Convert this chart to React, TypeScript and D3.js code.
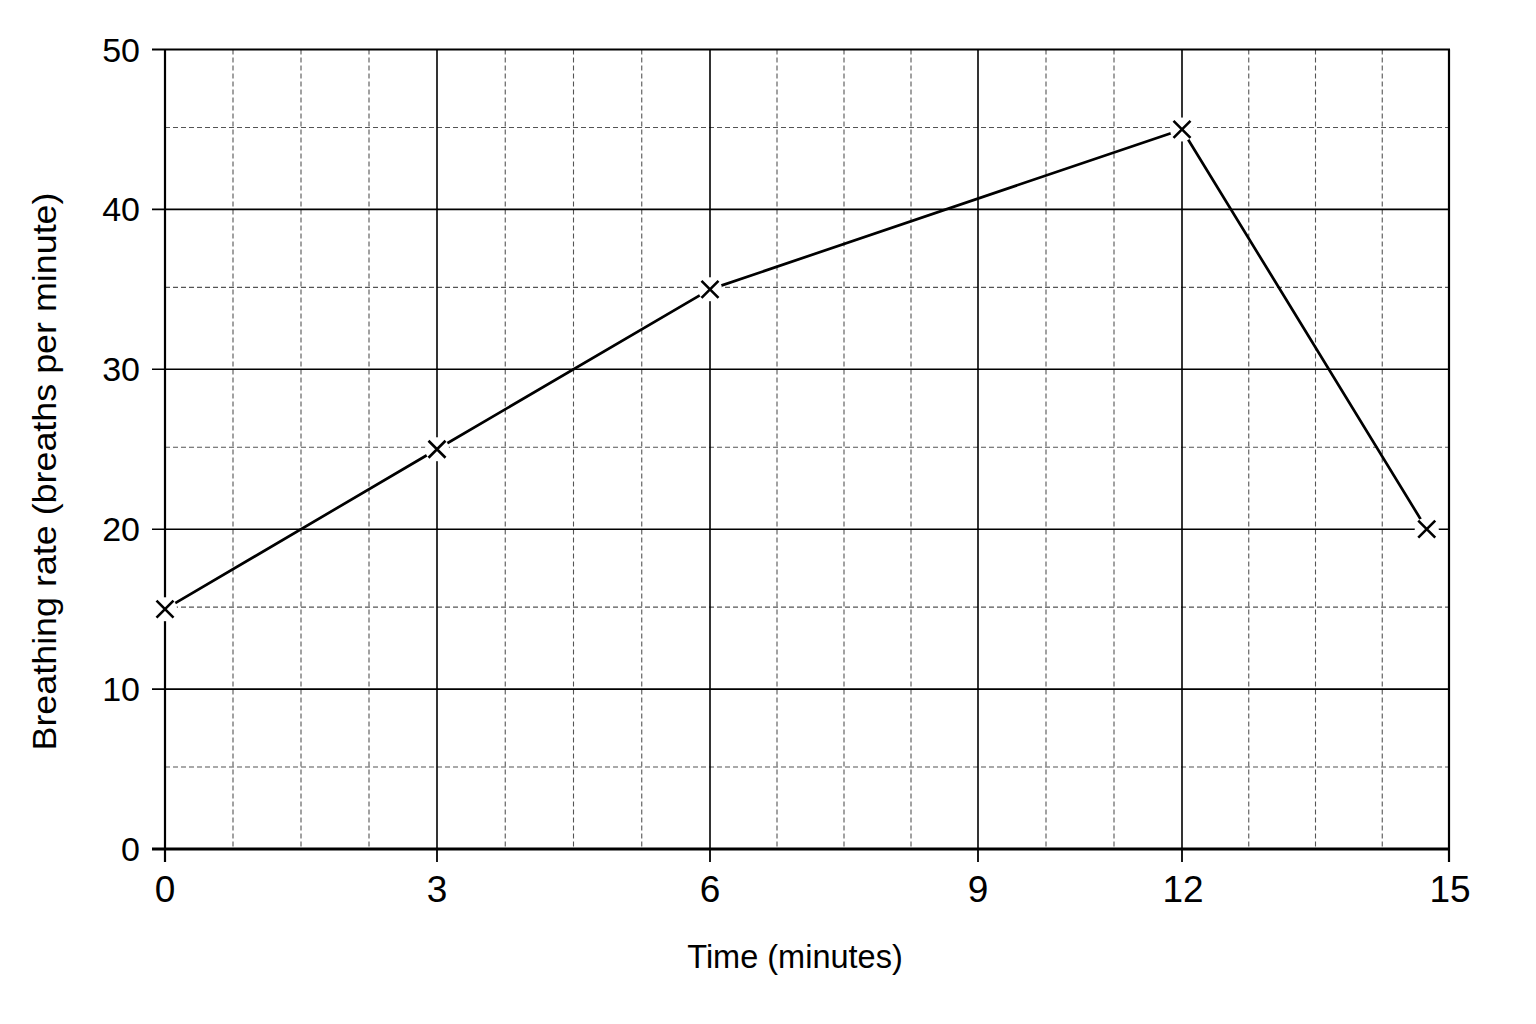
import React from "react";
import * as d3 from "d3";

// ---- data ----
const timeMinutes = [0, 3, 6, 12, 14.75];
const breathingRate = [15, 25, 35, 45, 20];

const xTickValues = [0, 3, 6, 9, 12, 15];
const xTickCells = [0, 4, 8, 12, 15, 19]; // grid cell index of each labelled tick
const yTickValues = [0, 10, 20, 30, 40, 50];
const yMinorValues = [5, 15, 25, 35, 45];

const xTitle = "Time (minutes)";
const yTitle = "Breathing rate (breaths per minute)";

// ---- layout ----
const W = 1536;
const H = 1024;
const xTickPx = [165, 437, 710, 978, 1182, 1449];
const left = xTickPx[0];
const right = xTickPx[xTickPx.length - 1];
const top = 49.5;
const bottom = 849;
const nCells = 19;

const FONT = "'Liberation Sans', Arial, Helvetica, sans-serif";

export default function App() {
  const cellScale = d3.scaleLinear().domain(xTickCells).range(xTickPx);
  const minuteToCell = d3.scaleLinear().domain(xTickValues).range(xTickCells);
  const x = (v: number) => cellScale(minuteToCell(v));
  const y = d3.scaleLinear().domain([0, 50]).range([bottom, top]);

  const minorCells = d3.range(1, nCells).filter((i) => !xTickCells.includes(i));

  const points = timeMinutes.map((t, i) => [x(t), y(breathingRate[i])] as [number, number]);
  const line = d3.line<[number, number]>()(points) || "";

  const arm = 8.5;
  const halo = 12;

  return (
    <div style={{ position: "absolute", left: 0, top: 0 }}>
      <svg width={W} height={H} viewBox={`0 0 ${W} ${H}`} style={{ display: "block", background: "#fff" }}>
        <rect x={0} y={0} width={W} height={H} fill="#fff" />

        {/* minor dashed grid */}
        <g stroke="#555" strokeWidth={1.1} strokeDasharray="5,3" fill="none">
          {minorCells.map((c) => (
            <line key={"vx" + c} x1={cellScale(c)} x2={cellScale(c)} y1={top} y2={bottom} />
          ))}
          {yMinorValues.map((v) => (
            <line key={"hy" + v} x1={left} x2={right} y1={y(v) - 2} y2={y(v) - 2} />
          ))}
        </g>

        {/* major solid grid */}
        <g stroke="#000" strokeWidth={1.6} fill="none">
          {xTickValues.slice(1, -1).map((v) => (
            <line key={"mx" + v} x1={x(v)} x2={x(v)} y1={top} y2={bottom} />
          ))}
          {yTickValues.slice(1, -1).map((v) => (
            <line key={"my" + v} x1={left - 13} x2={right} y1={y(v)} y2={y(v)} />
          ))}
        </g>

        {/* frame / axes */}
        <g stroke="#000" fill="none">
          <line x1={left - 13} x2={right + 1} y1={top} y2={top} strokeWidth={2.2} />
          <line x1={right} x2={right} y1={top} y2={bottom + 13} strokeWidth={2.2} />
          <line x1={left} x2={left} y1={top} y2={bottom + 13} strokeWidth={2.2} />
          <line x1={left - 13} x2={right + 1} y1={bottom} y2={bottom} strokeWidth={2.8} />
          {xTickValues.slice(1, -1).map((v) => (
            <line key={"tx" + v} x1={x(v)} x2={x(v)} y1={bottom} y2={bottom + 13} strokeWidth={1.8} />
          ))}
        </g>

        {/* data line */}
        <path d={line} fill="none" stroke="#000" strokeWidth={2.7} strokeLinejoin="round" />

        {/* markers */}
        {points.map(([px, py], i) => (
          <g key={"pt" + i}>
            <circle cx={px} cy={py} r={halo} fill="#fff" />
            <path
              d={`M${px - arm},${py - arm}L${px + arm},${py + arm}M${px - arm},${py + arm}L${px + arm},${py - arm}`}
              stroke="#000"
              strokeWidth={2.6}
              fill="none"
            />
          </g>
        ))}

        {/* y tick labels */}
        <g fontFamily={FONT} fontSize={34} fill="#000" textAnchor="end">
          {yTickValues.map((v) => (
            <text key={"yl" + v} x={140} y={y(v) + 12}>
              {v}
            </text>
          ))}
        </g>

        {/* x tick labels */}
        <g fontFamily={FONT} fontSize={37} fill="#000" textAnchor="middle">
          {xTickValues.map((v) => (
            <text key={"xl" + v} x={x(v) + (v >= 10 ? 1 : 0)} y={bottom + 53}>
              {v}
            </text>
          ))}
        </g>

        {/* axis titles */}
        <text x={795} y={968} fontFamily={FONT} fontSize={32.5} textAnchor="middle" fill="#000">
          {xTitle}
        </text>
        <text
          transform={`translate(56,${(191 + 752) / 2}) rotate(-90)`}
          fontFamily={FONT}
          fontSize={34}
          textAnchor="middle"
          textLength={558}
          lengthAdjust="spacingAndGlyphs"
          fill="#000"
        >
          {yTitle}
        </text>
      </svg>
    </div>
  );
}
